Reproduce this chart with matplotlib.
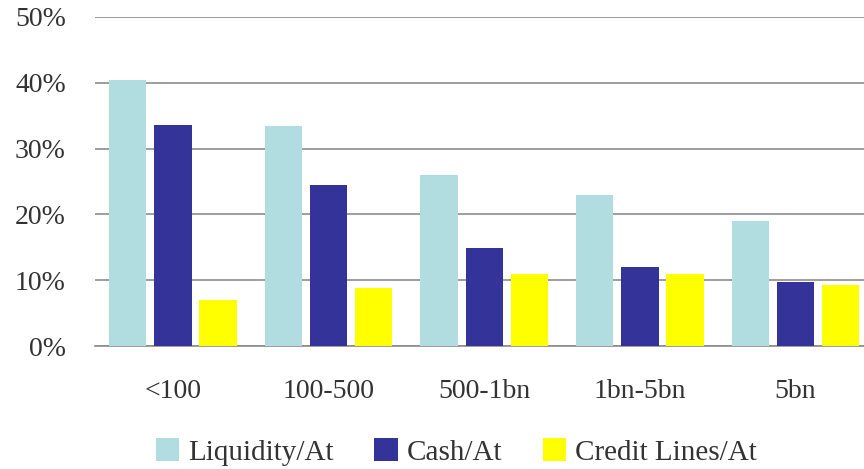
import matplotlib.pyplot as plt
import numpy as np

# share of total assets by firm size
sizes = ["<100", "100-500", "500-1bn", "1bn-5bn", "5bn"]
liquidity = [40.4, 33.4, 26.0, 22.9, 19.0]
cash = [33.6, 24.5, 14.9, 12.0, 9.7]
credit_lines = [7.0, 8.8, 10.9, 10.9, 9.3]
series = ["Liquidity/At", "Cash/At", "Credit Lines/At"]
colors = ["#B1DDE0", "#333399", "#FFFF00"]

plt.rcParams['font.family'] = ['Liberation Serif', 'DejaVu Serif']

fig = plt.figure(figsize=(8.64, 4.69), dpi=100)
ax = fig.add_axes([0.11, 0.262, 0.89, 0.702])

x = np.arange(len(sizes))
width = 0.24
step = 0.29
for i, (vals, lab, col) in enumerate(zip([liquidity, cash, credit_lines], series, colors)):
    ax.bar(x + (i - 1) * step, vals, width, color=col, label=lab, zorder=3)

ax.set_ylim(0, 50)
ax.set_xlim(-0.5, 4.44)
ax.set_yticks(range(0, 51, 10))
ax.set_yticklabels([f"{v}%" for v in range(0, 51, 10)])
ax.set_xticks(x)
ax.set_xticklabels(sizes)
ax.yaxis.grid(True, color="#8c8c8c", linewidth=1.2, zorder=0)
for s in ["top", "right", "left"]:
    ax.spines[s].set_visible(False)
ax.spines["bottom"].set_color("#8c8c8c")
ax.spines["bottom"].set_linewidth(1.2)
ax.tick_params(axis="both", length=0, labelsize=20, colors="#333333")
ax.tick_params(axis="y", pad=21)
ax.tick_params(axis="x", pad=24)

fig.legend(loc="center", bbox_to_anchor=(0.528, 0.036), ncol=3, frameon=False,
           fontsize=21, handlelength=0.8, handleheight=0.8, handletextpad=0.3,
           columnspacing=1.4, labelcolor="#333333")

plt.savefig("out.png")
